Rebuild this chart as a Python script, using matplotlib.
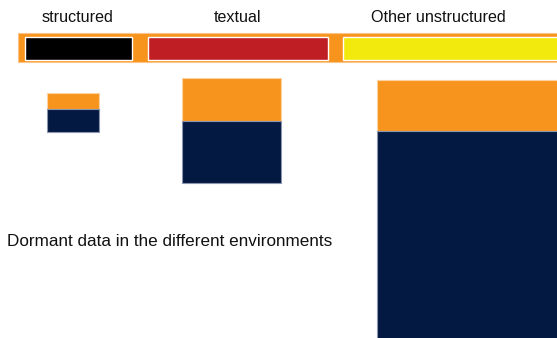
import matplotlib.pyplot as plt

plt.rcParams['font.family'] = ['Liberation Sans', 'DejaVu Sans']

# categories and box sizes (in pixels)
categories = ["structured", "textual", "Other unstructured"]
box_colors = ["#000000", "#BE1E24", "#F2EA0C"]
box_widths = [52, 99, 190]
active = [16, 43, 51]     # orange part
dormant = [23, 62, 210]   # navy part
caption = "Dormant data in the different environments"

orange = "#F7941D"
navy = "#041941"

# layout
lefts = [47, 182, 377]
tops = [93, 78, 80]
head_left = [25, 148, 343]
head_width = [107, 180, 220]
label_x = [77.5, 237.5, 438.5]

fig = plt.figure(figsize=(5.57, 3.38), dpi=100)
ax = fig.add_axes([0, 0, 1, 1])
ax.set_xlim(0, 557)
ax.set_ylim(338, 0)
ax.axis("off")

# header band
ax.bar(18, 29, width=560, bottom=33, align="edge", color=orange, edgecolor="#FBC58A", linewidth=0.8)
ax.bar(head_left, [23] * 3, width=head_width, bottom=37, align="edge",
       color=box_colors, edgecolor="white", linewidth=1.0)
for x, name in zip(label_x, categories):
    ax.text(x, 17, name, ha="center", va="center", fontsize=11.6, color="#111111")

# stacked boxes
ax.bar(lefts, active, width=box_widths, bottom=tops, align="edge",
       color=orange, edgecolor="#FCD3A5", linewidth=0.8)
navy_bottom = [t + a for t, a in zip(tops, active)]
ax.bar(lefts, dormant, width=box_widths, bottom=navy_bottom, align="edge",
       color=navy, edgecolor="#8C95B0", linewidth=0.8)

ax.text(7, 242, caption, ha="left", va="center", fontsize=12.3, color="#111111")

fig.savefig("out.png", dpi=100)
